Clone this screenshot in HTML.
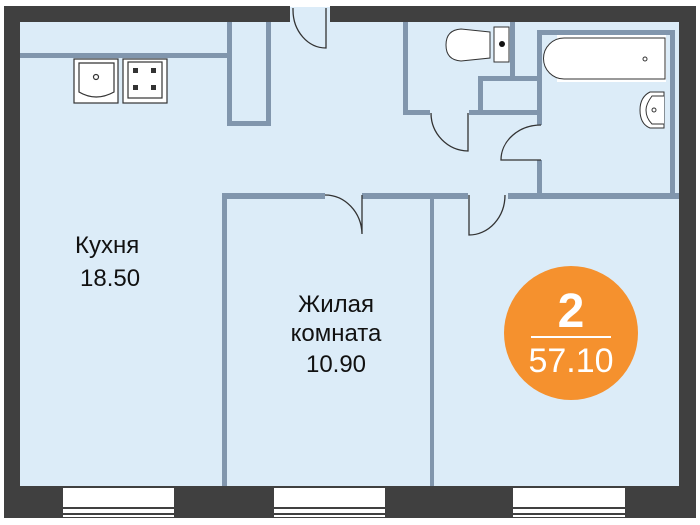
<!DOCTYPE html>
<html><head><meta charset="utf-8"><style>
html,body{margin:0;padding:0;background:#fff;width:700px;height:525px;overflow:hidden}
svg{display:block}
text{font-family:"Liberation Sans",sans-serif}
</style></head><body>
<svg width="700" height="525" viewBox="0 0 700 525" xmlns="http://www.w3.org/2000/svg">
<!-- outer wall -->
<rect x="4" y="6" width="692" height="512" fill="#404040"/>
<rect x="20" y="22" width="659" height="464" fill="#dcecf8"/>
<!-- entrance gap -->
<rect x="290" y="4" width="40" height="19" fill="#fff"/>
<rect x="290" y="6" width="40" height="17" fill="#dcecf8"/>
<rect x="290" y="4" width="40" height="3" fill="#fff"/>
<!-- windows -->
<g fill="#fff">
<rect x="63" y="488" width="111" height="29"/>
<rect x="274" y="488" width="111" height="29"/>
<rect x="513" y="488" width="112" height="29"/>
</g>
<g stroke="#404040" stroke-width="2">
<line x1="63" y1="508" x2="174" y2="508"/><line x1="63" y1="514" x2="174" y2="514"/>
<line x1="274" y1="508" x2="385" y2="508"/><line x1="274" y1="514" x2="385" y2="514"/>
<line x1="513" y1="508" x2="625" y2="508"/><line x1="513" y1="514" x2="625" y2="514"/>
</g>
<!-- internal walls -->
<g fill="#8196ad">
<rect x="20" y="53" width="208" height="5"/>
<rect x="227" y="22" width="5" height="104"/>
<rect x="266" y="22" width="5" height="104"/>
<rect x="227" y="121" width="44" height="5"/>
<rect x="222" y="193" width="103" height="6"/>
<rect x="222" y="193" width="5" height="293"/>
<rect x="362" y="193" width="106" height="6"/>
<rect x="508" y="193" width="171" height="6"/>
<rect x="430" y="193" width="4" height="293"/>
<rect x="403" y="22" width="5" height="92"/>
<rect x="403" y="110" width="27" height="5"/>
<rect x="469" y="110" width="70" height="5"/>
<rect x="510" y="22" width="5" height="58"/>
<rect x="478" y="76" width="61" height="5"/>
<rect x="478" y="76" width="5" height="38"/>
<rect x="537" y="30" width="5" height="95"/>
<rect x="537" y="160" width="5" height="36"/>
<rect x="537" y="30" width="137" height="5"/>
<rect x="670" y="30" width="5" height="166"/>
</g>
<!-- doors -->
<g fill="none" stroke="#333" stroke-width="1.3">
<path d="M293 8 L293 10 A33 38 0 0 0 326 48 L326 8"/>
<path d="M325 195 A37 40 0 0 1 362 234 L362 195"/>
<path d="M431 113 A38 38 0 0 0 468 151 L468 113"/>
<path d="M541 125 A40 35 0 0 0 501 160 L541 160"/>
<path d="M505 195 A36 40 0 0 1 469 235 L469 195"/>
</g>
<!-- kitchen fixtures -->
<g fill="#fff" stroke="#333" stroke-width="1.2">
<rect x="74" y="59" width="44" height="44"/>
<rect x="123" y="59" width="44" height="44"/>
<rect x="128" y="62" width="34" height="36" fill="none"/>
<path d="M79 63 L114 63 L114 92 Q96 102 79 92 Z" fill="none"/>
<circle cx="96" cy="77" r="2.5"/>
</g>
<g fill="#333">
<rect x="133" y="68" width="5" height="5"/><rect x="151" y="68" width="5" height="5"/>
<rect x="133" y="85" width="5" height="5"/><rect x="151" y="85" width="5" height="5"/>
</g>
<!-- toilet -->
<g fill="#fff" stroke="#333" stroke-width="1">
<path d="M490 32 L461 29 Q446 30 446 45 Q446 60 461 61 L490 58 Z"/>
<rect x="494" y="27" width="15" height="35"/>
<rect x="557" y="35" width="109" height="47" fill="#fff" stroke="none"/>
<path d="M564 38 L665 38 L665 79 L564 79 A20 20 0 0 1 564 38 Z"/>
<circle cx="645" cy="59" r="2"/>
<path d="M664 92 L650 92 Q640 97 640 110 Q640 124 650 128 L664 128 Z"/>
<path d="M664 96 L652 96 Q646 104 646 110 Q646 118 652 124 L664 124"/>
<circle cx="654" cy="110" r="2"/>
</g>
<circle cx="502" cy="44" r="3" fill="#111"/>
<!-- labels -->
<g fill="#111" font-size="24">
<text x="75" y="253">Кухня</text>
<text x="80" y="286">18.50</text>
<text x="336" y="312" text-anchor="middle">Жилая</text>
<text x="336" y="341" text-anchor="middle">комната</text>
<text x="336" y="372" text-anchor="middle">10.90</text>
</g>
<!-- badge -->
<circle cx="571" cy="333" r="67" fill="#f5912e"/>
<text x="571" y="327" text-anchor="middle" fill="#fff" font-size="48" font-weight="bold">2</text>
<rect x="531" y="336" width="80" height="2" fill="#fff"/>
<text x="571" y="372" text-anchor="middle" fill="#fff" font-size="34">57.10</text>
</svg>
</body></html>
